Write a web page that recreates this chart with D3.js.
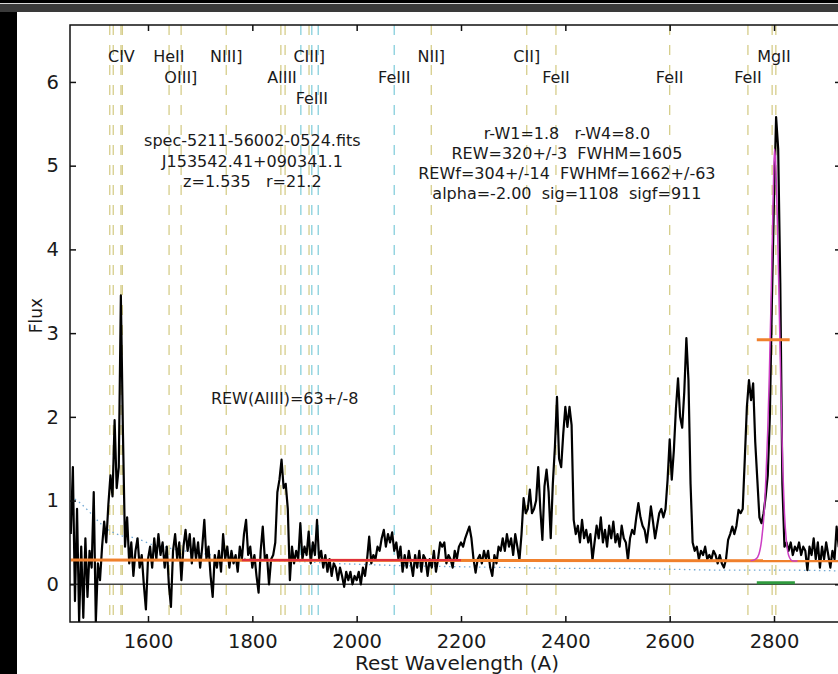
<!DOCTYPE html>
<html>
<head>
<meta charset="utf-8">
<script src="https://cdn.jsdelivr.net/npm/d3@7"></script>
<style>
  body { margin: 0; background: #000; }
  svg { display: block; }
  text { font-family: "DejaVu Sans", sans-serif; fill: #1a1a1a; }
</style>
</head>
<body>
<svg id="chart" width="838" height="674"></svg>
<script>
// Rest-frame spectrum, uniform wavelength grid
const waveStart = 1452, waveStep = 4;
const flux = [
  0.6, 1.4, -0.2, 0.9, -0.45, 0.45, -0.4, 0.55, -0.15, 0.4,
  0.2, 1.1, -0.45, 0.25, 0.05, 0.45, 0.75, 0.5, 0.95, 1.3,
  1.05, 1.96, 1.15, 1.4, 3.45, 1.8, 0.45, 0.8, 0.25, 0.5,
  0.1, 0.4, 0.55, 0.2, 0.35, 0.0, -0.3, 0.3, 0.45, 0.2,
  0.55, 0.3, 0.6, 0.35, 0.5, 0.2, 0.45, 0.0, -0.27, 0.4,
  0.6, 0.3, 0.5, 0.05, 0.45, 0.65, 0.4, 0.6, 0.25, 0.55,
  0.3, 0.5, 0.2, 0.45, 0.77, 0.3, 0.45, 0.1, -0.15, 0.35,
  0.2, 0.4, 0.15, 0.6, 0.3, 0.45, 0.2, 0.4, 0.25, 0.35,
  0.15, 0.45, 0.3, 0.6, 0.77, 0.35, 0.45, 0.2, 0.35, 0.1,
  -0.1, 0.4, 0.69, 0.3, 0.35, 0.0, 0.3, 0.35, 0.5, 1.1,
  1.25, 1.49, 1.15, 1.2, 0.9, 0.05, 0.45, 0.25, 0.4, 0.3,
  0.73, 0.3, 0.45, 0.35, 0.63, 0.25, 0.5, 0.35, 0.77, 0.3,
  0.4, 0.2, 0.35, 0.15, 0.3, 0.1, 0.25, 0.2, 0.05, 0.2,
  0.1, -0.03, 0.15, 0.05, 0.15, 0.0, 0.1, 0.05, 0.15, 0.0,
  0.2, 0.1, 0.3, 0.57, 0.25, 0.35, 0.3, 0.45, 0.4, 0.55,
  0.65, 0.45, 0.6, 0.5, 0.62, 0.4, 0.5, 0.3, 0.45, 0.15,
  0.35, 0.2, 0.4, 0.25, 0.1, 0.35, 0.2, 0.4, 0.15, 0.35,
  0.3, 0.1, 0.3, 0.2, 0.4, 0.15, 0.3, 0.5, 0.45, 0.5,
  0.25, 0.35, 0.3, 0.2, 0.4, 0.3, 0.45, 0.5, 0.45, 0.55,
  0.62, 0.69, 0.55, 0.3, 0.14, 0.3, 0.35, 0.25, 0.4, 0.3,
  0.4, 0.2, 0.1, 0.35, 0.25, 0.45, 0.4, 0.55, 0.4, 0.6,
  0.45, 0.55, 0.35, 0.6, 0.45, 0.29, 0.6, 1.03, 0.85, 0.9,
  1.13, 0.85, 0.9, 1.0, 1.4, 0.9, 0.53, 1.17, 1.37, 1.1,
  0.55, 1.2, 1.64, 2.24, 1.5, 1.4, 1.8, 2.12, 1.88, 2.12,
  1.9, 0.77, 0.6, 0.7, 0.5, 0.77, 0.55, 0.65, 0.5, 0.6,
  0.29, 0.5, 0.7, 0.55, 0.8, 0.5, 0.65, 0.45, 0.7, 0.55,
  0.75, 0.5, 0.6, 0.45, 0.7, 0.55, 0.5, 0.29, 0.55, 0.65,
  0.6, 0.8, 0.97, 0.8, 0.7, 0.65, 0.5, 0.7, 0.93, 0.75,
  0.55, 0.7, 0.85, 0.9, 0.8, 0.9, 1.25, 1.73, 1.25, 1.6,
  2.1, 2.46, 2.0, 1.87, 2.3, 2.94, 2.44, 1.2, 0.5, 0.4,
  0.45, 0.3, 0.4, 0.35, 0.45, 0.3, 0.35, 0.3, 0.4, 0.35,
  0.25, 0.35, 0.25, 0.2, 0.3, 0.53, 0.6, 0.69, 0.6, 0.7,
  0.89, 0.85, 0.9, 1.5, 2.12, 2.44, 2.2, 2.4, 1.7, 1.25,
  0.8, 0.73, 0.85, 1.05, 1.3, 2.0, 3.4, 4.6, 5.58, 5.2,
  3.6, 1.2, 0.45, 0.5, 0.4, 0.5, 0.35, 0.45, 0.4, 0.5,
  0.35, 0.45, 0.4, 0.17, 0.45, 0.35, 0.55, 0.3, 0.5, 0.2,
  0.45, 0.3, 0.5, 0.35, 0.2, 0.4, 0.3, 0.69, 0.45, 0.5
];

// Noise spectrum (dotted)
const noiseWave = [1452, 1470, 1490, 1510, 1530, 1550, 1570, 1590, 1610, 1630, 1650, 1670, 1700, 1750, 1800, 1850, 1900, 1950, 2000, 2050, 2100, 2200, 2300, 2400, 2500, 2600, 2700, 2800, 2930];
const noiseFlux = [1.05, 0.97, 0.85, 0.72, 0.63, 0.58, 0.56, 0.52, 0.47, 0.45, 0.42, 0.4, 0.37, 0.33, 0.3, 0.28, 0.27, 0.25, 0.24, 0.23, 0.22, 0.21, 0.2, 0.19, 0.19, 0.18, 0.17, 0.17, 0.16];

// Power-law continuum and the local continuum under AlIII
const contWave = [1452, 2930];
const contFlux = [0.29, 0.28];
const localWave = [1780, 2200];
const localFlux = [0.29, 0.29];

// Gaussian fit of MgII
const fitWave = [2755, 2765, 2771, 2776, 2781, 2785, 2788, 2791, 2794, 2797, 2799, 2801, 2803, 2805, 2808, 2811, 2814, 2817, 2820, 2824, 2829, 2836, 2845];
const fitFlux = [0.28, 0.30, 0.36, 0.52, 0.85, 1.35, 1.85, 2.5, 3.3, 4.2, 4.8, 5.2, 5.05, 4.7, 3.9, 3.0, 2.1, 1.35, 0.85, 0.5, 0.33, 0.28, 0.28];

// Half-maximum marker and fitting window
const halfMaxWave = [2767, 2830];
const halfMaxFlux = 2.92;
const windowWave = [2767, 2840];
const windowFlux = 0.02;

// Emission-line markers
const lineWaves = [1526.7, 1533.4, 1548.2, 1550.8, 1640.4, 1663.5, 1750, 1854.7, 1862.8, 1893, 1908.7, 1914, 1926.3, 2072, 2143, 2326, 2382, 2600, 2750, 2796.4, 2803.5];
const lineKinds = ["k", "k", "k", "k", "k", "k", "k", "k", "k", "c", "k", "c", "c", "c", "k", "k", "k", "k", "k", "k", "k"];

const labelNames = ["CIV", "HeII", "OIII]", "NIII]", "AlIII", "CIII]", "FeIII", "FeIII", "NII]", "CII]", "FeII", "FeII", "FeII", "MgII"];
const labelWaves = [1549, 1640, 1663, 1750, 1857, 1909, 1914, 2072, 2143, 2326, 2382, 2600, 2750, 2800];
const labelRows = [0, 0, 1, 0, 1, 0, 2, 1, 0, 0, 1, 1, 1, 0];

const xTicks = [1600, 1800, 2000, 2200, 2400, 2600, 2800];
const yTicks = [0, 1, 2, 3, 4, 5, 6];

const infoLeft = ["spec-5211-56002-0524.fits", "J153542.41+090341.1", "z=1.535   r=21.2"];
const infoRight = ["r-W1=1.8   r-W4=8.0", "REW=320+/-3  FWHM=1605", "REWf=304+/-14  FWHMf=1662+/-63", "alpha=-2.00  sig=1108  sigf=911"];
const alText = "REW(AlIII)=63+/-8";

// ---- layout ----
const W = 838, H = 674;
const plot = { left: 70, right: 841, top: 25, bottom: 622 };

const svg = d3.select("#chart");

// window frame
svg.append("rect").attr("width", W).attr("height", H).attr("fill", "#ffffff");
svg.append("rect").attr("x", 0).attr("y", 0).attr("width", 17).attr("height", H).attr("fill", "#000");
svg.append("rect").attr("x", 0).attr("y", 0).attr("width", W).attr("height", 12).attr("fill", "#3a3a3a");
svg.append("rect").attr("x", 0).attr("y", 0).attr("width", W).attr("height", 3).attr("fill", "#000");
svg.append("rect").attr("x", 0).attr("y", 3).attr("width", W).attr("height", 1).attr("fill", "#d8d8d8");

const x = d3.scaleLinear().domain([1450.5, 2928.4]).range([plot.left, plot.right]);
const y = d3.scaleLinear().domain([-0.45, 6.68]).range([plot.bottom, plot.top]);

svg.append("clipPath").attr("id", "clip")
  .append("rect").attr("x", plot.left).attr("y", plot.top)
  .attr("width", plot.right - plot.left).attr("height", plot.bottom - plot.top);

const g = svg.append("g").attr("clip-path", "url(#clip)");

// line markers
const kindColor = { k: "#d6cd8a", c: "#86cfdc" };
g.selectAll("line.marker").data(lineWaves).join("line")
  .attr("class", "marker")
  .attr("x1", d => x(d)).attr("x2", d => x(d))
  .attr("y1", plot.top).attr("y2", plot.bottom)
  .attr("stroke", (d, i) => kindColor[lineKinds[i]])
  .attr("stroke-width", 1.3)
  .attr("stroke-dasharray", "10,10");

// zero level
g.append("line")
  .attr("x1", plot.left).attr("x2", plot.right)
  .attr("y1", y(0)).attr("y2", y(0))
  .attr("stroke", "#444").attr("stroke-width", 1.6);

const line = d3.line().x(d => x(d[0])).y(d => y(d[1]));

// noise spectrum
g.append("path")
  .datum(noiseWave.map((w, i) => [w, noiseFlux[i]]))
  .attr("d", d3.line().curve(d3.curveMonotoneX).x(d => x(d[0])).y(d => y(d[1])))
  .attr("fill", "none").attr("stroke", "#6fa6d2").attr("stroke-width", 1.3)
  .attr("stroke-dasharray", "1.5,3.5");

// spectrum
const spec = flux.map((f, i) => [waveStart + i * waveStep, f]);
g.append("path").datum(spec).attr("d", line)
  .attr("fill", "none").attr("stroke", "#000").attr("stroke-width", 2.2)
  .attr("stroke-linejoin", "round");

// continuum fits
g.append("path").datum(contWave.map((w, i) => [w, contFlux[i]])).attr("d", line)
  .attr("fill", "none").attr("stroke", "#f0802c").attr("stroke-width", 3);
g.append("path").datum(localWave.map((w, i) => [w, localFlux[i]])).attr("d", line)
  .attr("fill", "none").attr("stroke", "#e0303c").attr("stroke-width", 2.2);

// MgII gaussian fit
g.append("path").datum(fitWave.map((w, i) => [w, fitFlux[i]]))
  .attr("d", d3.line().curve(d3.curveMonotoneX).x(d => x(d[0])).y(d => y(d[1])))
  .attr("fill", "none").attr("stroke", "#cc3fc4").attr("stroke-width", 1.5);

// half-maximum bar and fit window
g.append("line")
  .attr("x1", x(halfMaxWave[0])).attr("x2", x(halfMaxWave[1]))
  .attr("y1", y(halfMaxFlux)).attr("y2", y(halfMaxFlux))
  .attr("stroke", "#f0802c").attr("stroke-width", 3);
g.append("line")
  .attr("x1", x(windowWave[0])).attr("x2", x(windowWave[1]))
  .attr("y1", y(windowFlux)).attr("y2", y(windowFlux))
  .attr("stroke", "#2f9a3e").attr("stroke-width", 3);

// axes frame with inward ticks
const frame = svg.append("g");
frame.append("rect")
  .attr("x", plot.left).attr("y", plot.top)
  .attr("width", plot.right - plot.left).attr("height", plot.bottom - plot.top)
  .attr("fill", "none").attr("stroke", "#111").attr("stroke-width", 1.5);

const axB = d3.axisBottom(x).tickValues(xTicks).tickSize(-6).tickPadding(12).tickFormat(d3.format("d"));
const axT = d3.axisTop(x).tickValues(xTicks).tickSize(-6).tickFormat("");
const axL = d3.axisLeft(y).tickValues(yTicks).tickSize(-6).tickPadding(11).tickFormat(d3.format("d"));
const axR = d3.axisRight(y).tickValues(yTicks).tickSize(-6).tickFormat("");

function styleAxis(sel) {
  sel.select(".domain").remove();
  sel.selectAll(".tick line").attr("stroke", "#111").attr("stroke-width", 1.5);
  sel.selectAll(".tick text").style("font-family", "'DejaVu Sans', sans-serif")
    .style("font-size", "19.5px").attr("fill", "#1a1a1a");
}
frame.append("g").attr("transform", `translate(0,${plot.bottom})`).call(axB).call(styleAxis);
frame.append("g").attr("transform", `translate(0,${plot.top})`).call(axT).call(styleAxis);
frame.append("g").attr("transform", `translate(${plot.left},0)`).call(axL).call(styleAxis);
frame.append("g").attr("transform", `translate(${plot.right},0)`).call(axR).call(styleAxis);

// axis titles
svg.append("text")
  .attr("x", 457).attr("y", 670)
  .attr("text-anchor", "middle").style("font-size", "20px")
  .text("Rest Wavelength (A)");
svg.append("text")
  .attr("transform", `translate(42,${(plot.top + plot.bottom) / 2 - 8}) rotate(-90)`)
  .attr("text-anchor", "middle").style("font-size", "17px")
  .text("Flux");

// line labels
const rowY = [62, 83, 104];
svg.selectAll("text.lbl").data(labelNames).join("text")
  .attr("class", "lbl")
  .attr("x", (d, i) => x(labelWaves[i]))
  .attr("y", (d, i) => rowY[labelRows[i]])
  .attr("text-anchor", "middle").style("font-size", "16px")
  .text(d => d);

// object info
svg.selectAll("text.infoL").data(infoLeft).join("text")
  .attr("class", "infoL")
  .attr("x", x(1800)).attr("y", (d, i) => 146 + i * 20.5)
  .attr("text-anchor", "middle").style("font-size", "16px")
  .style("white-space", "pre").text(d => d);

svg.selectAll("text.infoR").data(infoRight).join("text")
  .attr("class", "infoR")
  .attr("x", x(2403)).attr("y", (d, i) => 138.5 + i * 20.2)
  .attr("text-anchor", "middle").style("font-size", "16px")
  .style("white-space", "pre").text(d => d);

svg.append("text")
  .attr("x", x(1862)).attr("y", 404)
  .attr("text-anchor", "middle").style("font-size", "16px")
  .text(alText);
</script>
</body>
</html>
